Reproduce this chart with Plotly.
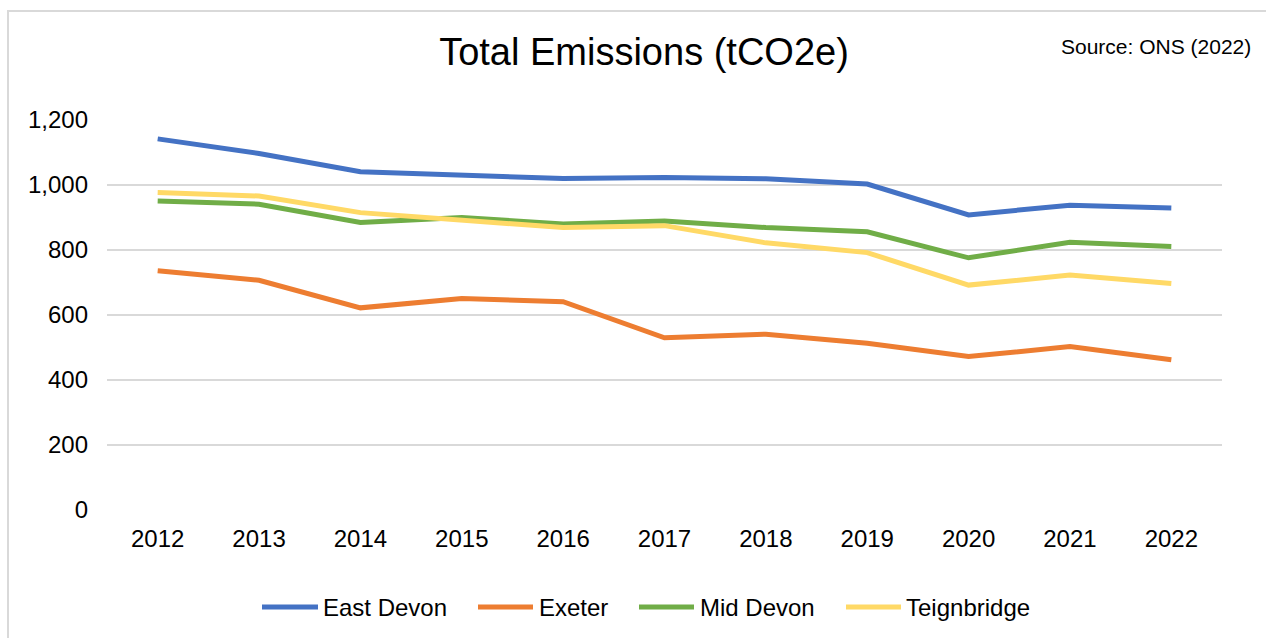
import plotly.graph_objects as go

# Annual total emissions by district
years = ["2012", "2013", "2014", "2015", "2016", "2017", "2018", "2019", "2020", "2021", "2022"]
east_devon = [1142, 1097, 1041, 1031, 1020, 1023, 1019, 1003, 908, 938, 929]
exeter = [736, 707, 622, 651, 641, 530, 541, 513, 472, 503, 462]
mid_devon = [951, 941, 885, 900, 880, 889, 869, 856, 776, 824, 811]
teignbridge = [977, 966, 915, 892, 869, 875, 822, 792, 692, 723, 697]

series_names = ["East Devon", "Exeter", "Mid Devon", "Teignbridge"]
series_values = [east_devon, exeter, mid_devon, teignbridge]
colors = ["#4472C4", "#ED7D31", "#70AD47", "#FFD966"]

FONT = "Arial, 'Liberation Sans', sans-serif"
W, H = 1266, 638
ML, MR, MT, MB = 107, 44, 120, 128
PW = W - ML - MR
PH = H - MT - MB


def px_x(p):
    return (p - ML) / PW


def px_y(p):
    return (H - MB - p) / PH


fig = go.Figure()
for name, vals, col in zip(series_names, series_values, colors):
    fig.add_trace(go.Scatter(
        x=years, y=vals, name=name, mode="lines",
        line=dict(color=col, width=5),
        showlegend=False,
    ))

shapes = []
annotations = []

# chart-area frame (left and top edges visible)
shapes.append(dict(type="rect", xref="paper", yref="paper",
                   x0=px_x(8), x1=px_x(1290), y0=px_y(11), y1=px_y(660),
                   line=dict(color="#D9D9D9", width=2), fillcolor="rgba(0,0,0,0)",
                   layer="below"))

# legend drawn along the bottom
legend_line_x = [(262, 318), (478, 533), (639, 694), (846, 901)]
legend_text_x = [321, 537, 698, 904]
legend_y = 607
for name, col, (a, b), tx in zip(series_names, colors, legend_line_x, legend_text_x):
    shapes.append(dict(type="line", xref="paper", yref="paper",
                       x0=px_x(a), x1=px_x(b), y0=px_y(legend_y), y1=px_y(legend_y),
                       line=dict(color=col, width=5)))
    annotations.append(dict(text=name, xref="paper", yref="paper",
                            x=px_x(tx), y=px_y(legend_y), xanchor="left", yanchor="middle",
                            showarrow=False, font=dict(family=FONT, size=24, color="#000000")))

annotations.append(dict(text="Source: ONS (2022)", xref="paper", yref="paper",
                        x=px_x(1253), y=px_y(46), xanchor="right", yanchor="middle",
                        showarrow=False, font=dict(family=FONT, size=21, color="#000000")))

fig.update_layout(
    width=W, height=H,
    margin=dict(l=ML, r=MR, t=MT, b=MB),
    paper_bgcolor="white", plot_bgcolor="white",
    title=dict(text="Total Emissions (tCO2e)", x=644 / W, xref="container", xanchor="center",
               y=1 - 52 / H, yref="container", yanchor="middle",
               font=dict(family=FONT, size=38, color="#000000")),
    shapes=shapes,
    annotations=annotations,
    showlegend=False,
)

fig.update_xaxes(type="category", range=[-0.5, 10.5], showgrid=False, zeroline=False,
                 showline=False, ticks="", tickfont=dict(family=FONT, size=24, color="#000000"),
                 ticklabelstandoff=12)
fig.update_yaxes(range=[0, 1200], tickvals=[0, 200, 400, 600, 800, 1000, 1200], tickformat=",",
                 showgrid=True, gridcolor="#D9D9D9", gridwidth=1.5, zeroline=False, showline=False,
                 ticks="", tickfont=dict(family=FONT, size=24, color="#000000"),
                 ticklabelstandoff=18)

fig.write_html("out.html")
